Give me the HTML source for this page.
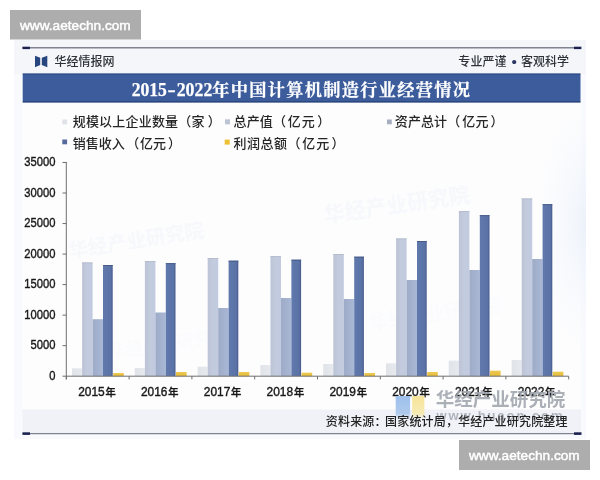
<!DOCTYPE html>
<html lang="zh-CN">
<head>
<meta charset="utf-8">
<title>2015-2022年中国计算机制造行业经营情况</title>
<style>
html,body{margin:0;padding:0;background:#fff;}
body{width:600px;height:480px;overflow:hidden;position:relative;font-family:"Liberation Sans","Noto Sans CJK SC",sans-serif;}
svg{position:absolute;left:0;top:0;display:block;}
.sans{font-family:"Liberation Sans","Noto Sans CJK SC",sans-serif;}
.serif{font-family:"Liberation Serif","Noto Serif CJK SC",serif;}
</style>
</head>
<body>
<svg width="600" height="480" viewBox="0 0 600 480">
<defs>
<linearGradient id="g1" x1="0" x2="1" y1="0" y2="0"><stop offset="0" stop-color="#e0e3e8"/><stop offset="1" stop-color="#e6e9ee"/></linearGradient>
<linearGradient id="g2" x1="0" x2="1" y1="0" y2="0"><stop offset="0" stop-color="#bcc3d5"/><stop offset="0.5" stop-color="#c3cbde"/><stop offset="1" stop-color="#c1cadf"/></linearGradient>
<linearGradient id="g3" x1="0" x2="1" y1="0" y2="0"><stop offset="0" stop-color="#9eabc7"/><stop offset="1" stop-color="#a9b8d6"/></linearGradient>
<linearGradient id="g4" x1="0" x2="1" y1="0" y2="0"><stop offset="0" stop-color="#6079ad"/><stop offset="0.8" stop-color="#5a72a6"/><stop offset="1" stop-color="#46598a"/></linearGradient>
<linearGradient id="g5" x1="0" x2="0" y1="0" y2="1"><stop offset="0" stop-color="#eec94e"/><stop offset="1" stop-color="#e4bc3c"/></linearGradient>
<radialGradient id="bgR" cx="1" cy="0.42" r="0.5" fx="1" fy="0.42"><stop offset="0" stop-color="#e4ecf8" stop-opacity="1"/><stop offset="1" stop-color="#eef3fb" stop-opacity="0"/></radialGradient>
<linearGradient id="wmB" x1="0" x2="0" y1="0" y2="1"><stop offset="0" stop-color="#9dc0ec" stop-opacity="1"/><stop offset="0.75" stop-color="#a5c4ea" stop-opacity="0.9"/><stop offset="1" stop-color="#a5c4ea" stop-opacity="0"/></linearGradient>
<linearGradient id="wmY" x1="0" x2="0" y1="0" y2="1"><stop offset="0" stop-color="#f6e49a" stop-opacity="1"/><stop offset="0.75" stop-color="#f6e9a8" stop-opacity="0.9"/><stop offset="1" stop-color="#f5e6a3" stop-opacity="0"/></linearGradient>
<filter id="soft" x="-5%" y="-5%" width="110%" height="110%"><feGaussianBlur stdDeviation="0.5"/></filter>
</defs>
<rect x="0" y="0" width="600" height="480" fill="#ffffff"/>
<!-- chart image background -->
<rect x="14" y="40" width="572" height="399" fill="#f9fafd"/>
<rect x="14" y="40" width="572" height="34" fill="#f4f6fa"/>
<rect x="22.5" y="102" width="558" height="307" fill="#fdfdfe"/>
<rect x="490" y="120" width="96" height="250" fill="url(#bgR)" opacity="0.6"/>
<rect x="22.5" y="409.7" width="558.5" height="24" fill="#f0f2f8"/>
<g filter="url(#soft)">
<!-- top rule -->
<rect x="22.5" y="47.2" width="558.5" height="1.2" fill="#636876"/>
<rect x="22.5" y="46.7" width="7.4" height="2.4" fill="#1d2350"/>
<rect x="574" y="46.7" width="7.4" height="2.4" fill="#1d2350"/>
<!-- bottom rule -->
<rect x="22.5" y="433.2" width="558.5" height="1" fill="#636876"/>
<rect x="22.5" y="432.3" width="7.5" height="2.6" fill="#1d2350"/>
<rect x="574" y="432.3" width="7.5" height="2.6" fill="#1d2350"/>
<!-- logo -->
<path d="M35 55.8 L40.2 57.7 L40.2 65.1 L35 67.3 Z" fill="#26457f"/>
<path d="M47.3 55.8 L41.8 57.7 L41.8 65.1 L47.3 67.3 Z" fill="#26457f"/>
<text class="sans" x="54.4" y="66" font-size="12" font-weight="500" fill="#2e3238" textLength="60.2" lengthAdjust="spacing">华经情报网</text>
<text class="sans" y="65.6" font-size="12" font-weight="500" fill="#2e3238"><tspan x="458.3" letter-spacing="0.1">专业严谨</tspan><tspan x="511.6" y="66.6" font-size="15.5" fill="#2a3560">•</tspan><tspan x="521" y="65.6">客观科学</tspan></text>
<!-- title band -->
<rect x="22.7" y="73.6" width="557.8" height="28.8" fill="#3c5c9b"/>
<rect x="22.7" y="73.6" width="557.8" height="0.9" fill="#2b4480"/>
<rect x="22.7" y="101.4" width="557.8" height="1" fill="#243a6c"/>
<text class="serif" y="96.2" font-size="17.8" font-weight="bold" fill="#ffffff" stroke="#ffffff" stroke-width="0.25"><tspan x="131.7" textLength="35.2" lengthAdjust="spacingAndGlyphs">2015</tspan><tspan x="167.6" textLength="8.2" lengthAdjust="spacingAndGlyphs">-</tspan><tspan x="176.7" textLength="35.6" lengthAdjust="spacingAndGlyphs">2022</tspan><tspan x="212.3" y="96.3" font-size="17.2" textLength="257.7" lengthAdjust="spacing">年中国计算机制造行业经营情况</tspan></text>
<!-- legend -->
<g class="sans" font-size="13" font-weight="500" fill="#262626">
<rect x="62.3" y="119.5" width="4.8" height="4.8" fill="#dfe2e7"/>
<text y="126.3"><tspan x="72.7" letter-spacing="0.2">规模以上企业数量（家</tspan><tspan x="207.7">）</tspan></text>
<rect x="225" y="119.3" width="5" height="5" fill="#bcc3d3"/>
<text y="126.3"><tspan x="233.5" letter-spacing="0.14">总产值（</tspan><tspan x="287.8" letter-spacing="1">亿元</tspan><tspan x="317.3">）</tspan></text>
<rect x="387" y="119.5" width="4.8" height="4.8" fill="#a7aebf"/>
<text y="126.3"><tspan x="394.8" letter-spacing="0.1">资产总计（</tspan><tspan x="462.3" letter-spacing="0.2">亿元</tspan><tspan x="490.6">）</tspan></text>
<rect x="62.3" y="139.5" width="4.8" height="4.8" fill="#566a9c"/>
<text y="148"><tspan x="72.7">销售收入</tspan><tspan x="126.2">（</tspan><tspan x="140">亿元</tspan><tspan x="168.1">）</tspan></text>
<rect x="224.7" y="139.6" width="5" height="5" fill="#ecc030"/>
<text y="148"><tspan x="233.5" letter-spacing="0.5">利润总额（</tspan><tspan x="302.3" letter-spacing="1">亿元</tspan><tspan x="331.6">）</tspan></text>
</g>
<!-- faint background watermarks -->
<g class="sans" font-weight="bold" fill="#e3e9f4" opacity="0.24">
<text x="70" y="258" font-size="19.5" transform="rotate(-9 70 258)">华经产业研究院</text>
<text x="325" y="221.5" font-size="21" transform="rotate(-8 325 221.5)">华经产业研究院</text>
<text x="110" y="358" font-size="17" opacity="0.4" transform="rotate(-8 110 358)">华经产业研究院</text>
<text x="370" y="330" font-size="19" opacity="0.4" transform="rotate(-8 370 330)">华经产业研究院</text>
</g>
<!-- bars -->
<rect x="72.00" y="368.30" width="10.10" height="7.90" fill="url(#g1)"/>
<rect x="82.10" y="262.50" width="10.50" height="113.70" fill="url(#g2)"/>
<rect x="82.10" y="262.50" width="10.50" height="0.8" fill="#b3bacb"/>
<rect x="92.60" y="319.20" width="10.40" height="57.00" fill="url(#g3)"/>
<rect x="103.00" y="265.00" width="9.70" height="111.20" fill="url(#g4)"/>
<rect x="103.00" y="265.00" width="9.70" height="0.9" fill="#465985"/>
<rect x="113.20" y="373.00" width="10.60" height="3.20" fill="url(#g5)"/>
<rect x="134.80" y="368.00" width="10.10" height="8.20" fill="url(#g1)"/>
<rect x="144.90" y="261.00" width="10.50" height="115.20" fill="url(#g2)"/>
<rect x="144.90" y="261.00" width="10.50" height="0.8" fill="#b3bacb"/>
<rect x="155.40" y="312.50" width="10.40" height="63.70" fill="url(#g3)"/>
<rect x="165.80" y="263.20" width="9.70" height="113.00" fill="url(#g4)"/>
<rect x="165.80" y="263.20" width="9.70" height="0.9" fill="#465985"/>
<rect x="176.00" y="372.00" width="10.60" height="4.20" fill="url(#g5)"/>
<rect x="197.60" y="366.70" width="10.10" height="9.50" fill="url(#g1)"/>
<rect x="207.70" y="258.00" width="10.50" height="118.20" fill="url(#g2)"/>
<rect x="207.70" y="258.00" width="10.50" height="0.8" fill="#b3bacb"/>
<rect x="218.20" y="308.00" width="10.40" height="68.20" fill="url(#g3)"/>
<rect x="228.60" y="260.70" width="9.70" height="115.50" fill="url(#g4)"/>
<rect x="228.60" y="260.70" width="9.70" height="0.9" fill="#465985"/>
<rect x="238.80" y="372.00" width="10.60" height="4.20" fill="url(#g5)"/>
<rect x="260.40" y="365.00" width="10.10" height="11.20" fill="url(#g1)"/>
<rect x="270.50" y="256.20" width="10.50" height="120.00" fill="url(#g2)"/>
<rect x="270.50" y="256.20" width="10.50" height="0.8" fill="#b3bacb"/>
<rect x="281.00" y="298.00" width="10.40" height="78.20" fill="url(#g3)"/>
<rect x="291.40" y="259.70" width="9.70" height="116.50" fill="url(#g4)"/>
<rect x="291.40" y="259.70" width="9.70" height="0.9" fill="#465985"/>
<rect x="301.60" y="372.70" width="10.60" height="3.50" fill="url(#g5)"/>
<rect x="323.20" y="364.00" width="10.10" height="12.20" fill="url(#g1)"/>
<rect x="333.30" y="254.00" width="10.50" height="122.20" fill="url(#g2)"/>
<rect x="333.30" y="254.00" width="10.50" height="0.8" fill="#b3bacb"/>
<rect x="343.80" y="299.00" width="10.40" height="77.20" fill="url(#g3)"/>
<rect x="354.20" y="256.70" width="9.70" height="119.50" fill="url(#g4)"/>
<rect x="354.20" y="256.70" width="9.70" height="0.9" fill="#465985"/>
<rect x="364.40" y="373.00" width="10.60" height="3.20" fill="url(#g5)"/>
<rect x="386.00" y="363.30" width="10.10" height="12.90" fill="url(#g1)"/>
<rect x="396.10" y="238.50" width="10.50" height="137.70" fill="url(#g2)"/>
<rect x="396.10" y="238.50" width="10.50" height="0.8" fill="#b3bacb"/>
<rect x="406.60" y="280.00" width="10.40" height="96.20" fill="url(#g3)"/>
<rect x="417.00" y="241.00" width="9.70" height="135.20" fill="url(#g4)"/>
<rect x="417.00" y="241.00" width="9.70" height="0.9" fill="#465985"/>
<rect x="427.20" y="372.00" width="10.60" height="4.20" fill="url(#g5)"/>
<rect x="448.80" y="360.70" width="10.10" height="15.50" fill="url(#g1)"/>
<rect x="458.90" y="211.00" width="10.50" height="165.20" fill="url(#g2)"/>
<rect x="458.90" y="211.00" width="10.50" height="0.8" fill="#b3bacb"/>
<rect x="469.40" y="270.00" width="10.40" height="106.20" fill="url(#g3)"/>
<rect x="479.80" y="215.20" width="9.70" height="161.00" fill="url(#g4)"/>
<rect x="479.80" y="215.20" width="9.70" height="0.9" fill="#465985"/>
<rect x="490.00" y="370.70" width="10.60" height="5.50" fill="url(#g5)"/>
<rect x="511.60" y="360.00" width="10.10" height="16.20" fill="url(#g1)"/>
<rect x="521.70" y="198.50" width="10.50" height="177.70" fill="url(#g2)"/>
<rect x="521.70" y="198.50" width="10.50" height="0.8" fill="#b3bacb"/>
<rect x="532.20" y="259.00" width="10.40" height="117.20" fill="url(#g3)"/>
<rect x="542.60" y="204.20" width="9.70" height="172.00" fill="url(#g4)"/>
<rect x="542.60" y="204.20" width="9.70" height="0.9" fill="#465985"/>
<rect x="552.80" y="371.70" width="10.60" height="4.50" fill="url(#g5)"/>
<!-- axes -->
<g stroke="#6e6e6e" stroke-width="1" fill="none">
<line x1="66.3" y1="162" x2="66.3" y2="379.4"/>
<line x1="66.3" y1="376.2" x2="568.70" y2="376.2"/>
<line x1="66.30" y1="376.2" x2="66.30" y2="379.4"/>
<line x1="129.10" y1="376.2" x2="129.10" y2="379.4"/>
<line x1="191.90" y1="376.2" x2="191.90" y2="379.4"/>
<line x1="254.70" y1="376.2" x2="254.70" y2="379.4"/>
<line x1="317.50" y1="376.2" x2="317.50" y2="379.4"/>
<line x1="380.30" y1="376.2" x2="380.30" y2="379.4"/>
<line x1="443.10" y1="376.2" x2="443.10" y2="379.4"/>
<line x1="505.90" y1="376.2" x2="505.90" y2="379.4"/>
<line x1="568.70" y1="376.2" x2="568.70" y2="379.4"/>
<line x1="62.5" y1="376.20" x2="66.3" y2="376.20"/>
<line x1="62.5" y1="345.67" x2="66.3" y2="345.67"/>
<line x1="62.5" y1="315.14" x2="66.3" y2="315.14"/>
<line x1="62.5" y1="284.61" x2="66.3" y2="284.61"/>
<line x1="62.5" y1="254.08" x2="66.3" y2="254.08"/>
<line x1="62.5" y1="223.55" x2="66.3" y2="223.55"/>
<line x1="62.5" y1="193.02" x2="66.3" y2="193.02"/>
<line x1="62.5" y1="162.49" x2="66.3" y2="162.49"/>
</g>
<g class="sans" font-size="12.4" font-weight="500" fill="#1a1a1a" stroke="#1a1a1a" stroke-width="0.4">
<text x="55.4" y="379.80" text-anchor="end" textLength="6.2" lengthAdjust="spacingAndGlyphs">0</text>
<text x="55.4" y="349.27" text-anchor="end" textLength="24.9" lengthAdjust="spacingAndGlyphs">5000</text>
<text x="55.4" y="318.74" text-anchor="end" textLength="31.1" lengthAdjust="spacingAndGlyphs">10000</text>
<text x="55.4" y="288.21" text-anchor="end" textLength="31.1" lengthAdjust="spacingAndGlyphs">15000</text>
<text x="55.4" y="257.68" text-anchor="end" textLength="31.1" lengthAdjust="spacingAndGlyphs">20000</text>
<text x="55.4" y="227.15" text-anchor="end" textLength="31.1" lengthAdjust="spacingAndGlyphs">25000</text>
<text x="55.4" y="196.62" text-anchor="end" textLength="31.1" lengthAdjust="spacingAndGlyphs">30000</text>
<text x="55.4" y="166.09" text-anchor="end" textLength="31.1" lengthAdjust="spacingAndGlyphs">35000</text>
</g>
<g class="sans" font-size="12.3" font-weight="500" fill="#1a1a1a" stroke="#1a1a1a" stroke-width="0.4">
<text x="78.20" y="395.6"><tspan textLength="26.5" lengthAdjust="spacingAndGlyphs">2015</tspan><tspan font-size="10.2" dx="0.8">年</tspan></text>
<text x="141.00" y="395.6"><tspan textLength="26.5" lengthAdjust="spacingAndGlyphs">2016</tspan><tspan font-size="10.2" dx="0.8">年</tspan></text>
<text x="203.80" y="395.6"><tspan textLength="26.5" lengthAdjust="spacingAndGlyphs">2017</tspan><tspan font-size="10.2" dx="0.8">年</tspan></text>
<text x="266.60" y="395.6"><tspan textLength="26.5" lengthAdjust="spacingAndGlyphs">2018</tspan><tspan font-size="10.2" dx="0.8">年</tspan></text>
<text x="329.40" y="395.6"><tspan textLength="26.5" lengthAdjust="spacingAndGlyphs">2019</tspan><tspan font-size="10.2" dx="0.8">年</tspan></text>
<text x="392.20" y="395.6"><tspan textLength="26.5" lengthAdjust="spacingAndGlyphs">2020</tspan><tspan font-size="10.2" dx="0.8">年</tspan></text>
<text x="455.00" y="395.6"><tspan textLength="26.5" lengthAdjust="spacingAndGlyphs">2021</tspan><tspan font-size="10.2" dx="0.8">年</tspan></text>
<text x="517.80" y="395.6"><tspan textLength="26.5" lengthAdjust="spacingAndGlyphs">2022</tspan><tspan font-size="10.2" dx="0.8">年</tspan></text>
</g>
<!-- bottom-right watermark -->
<rect x="395.7" y="396" width="14.4" height="23" fill="url(#wmB)"/>
<rect x="412.1" y="396" width="12.3" height="23" fill="url(#wmY)"/>
<text class="sans" x="435.7" y="405.5" font-size="18.5" font-weight="700" fill="#a0a5ae" opacity="0.88" textLength="129.5" lengthAdjust="spacing">华经产业研究院</text>
<text class="sans" x="436.5" y="419.8" font-size="13" font-weight="700" fill="#9a9fa8" opacity="0.75" textLength="126" lengthAdjust="spacing">www.huaon.com</text>
<text class="sans" y="426" font-size="12" font-weight="500" fill="#222" letter-spacing="0.17"><tspan x="325.8">资料来源：</tspan><tspan x="385.1">国家统计局，华经产业研究院整理</tspan></text>
</g>
<!-- site watermark boxes -->
<rect x="10" y="10" width="131" height="29.5" fill="#adadad"/>
<text class="sans" x="20" y="30.3" font-size="13" fill="#ffffff" stroke="#ffffff" stroke-width="0.45" textLength="110.7" lengthAdjust="spacingAndGlyphs">www.aetechn.com</text>
<rect x="459" y="440" width="131" height="30" fill="#adadad"/>
<text class="sans" x="469" y="460.3" font-size="13" fill="#ffffff" stroke="#ffffff" stroke-width="0.45" textLength="110.7" lengthAdjust="spacingAndGlyphs">www.aetechn.com</text>
</svg>
</body>
</html>
